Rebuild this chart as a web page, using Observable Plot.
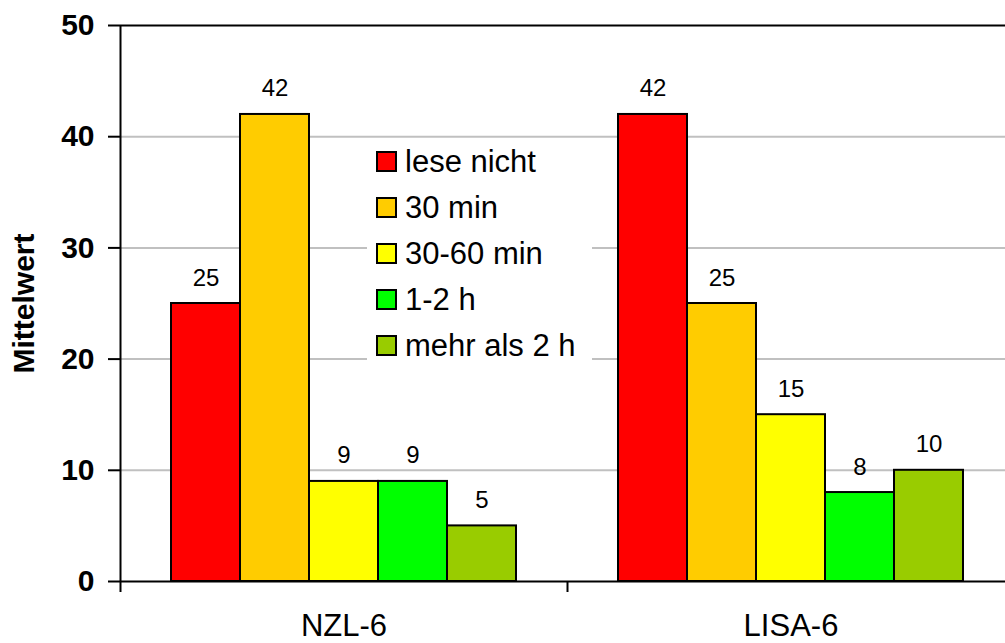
<!DOCTYPE html>
<html>
<head>
<meta charset="utf-8">
<script src="https://cdn.jsdelivr.net/npm/d3@7"></script>
<script src="https://cdn.jsdelivr.net/npm/@observablehq/plot@0.6"></script>
<style>
  html, body { margin: 0; padding: 0; background: #fff; overflow: hidden; }
  #wrap { position: relative; width: 1005px; height: 643px; font-family: Arial, "Liberation Sans", sans-serif; }
  #legend { position: absolute; left: 367px; top: 140px; width: 225px; height: 230px; background: #fff; box-sizing: border-box; padding-top: 11px; }
  .lg-row { display: flex; align-items: center; height: 46px; }
  .lg-sw { width: 21px; height: 21px; box-sizing: border-box; border: 2px solid #000; margin-left: 9px; margin-right: 8px; margin-top: -25px; flex: none; }
  .lg-row span.t { font-size: 31px; line-height: 31px; color: #000; margin-top: -25px; white-space: nowrap; }
  g[aria-label="y-axis label"] text { font-size: 30px; font-weight: bold; }
  g[aria-label="y-axis tick label"] text { font-size: 30px; font-weight: bold; }
</style>
</head>
<body>
<div id="wrap"></div>
<script>
const groups = ["NZL-6", "LISA-6"];
const series = ["lese nicht", "30 min", "30-60 min", "1-2 h", "mehr als 2 h"];
const colors = ["#FF0000", "#FFCC00", "#FFFF00", "#00FF00", "#99CC00"];
const nzlValues = [25, 42, 9, 9, 5];
const lisaValues = [42, 25, 15, 8, 10];
const yTicks = [0, 10, 20, 30, 40, 50];

const data = [];
series.forEach((s, i) => data.push({group: groups[0], series: s, value: nzlValues[i]}));
series.forEach((s, i) => data.push({group: groups[1], series: s, value: lisaValues[i]}));

const W = 1005, H = 643, ML = 120, MR = -9, MT = 25, MB = 62;
const PO = 0.739;
const facetW = (W - ML - MR) / groups.length;
const step = facetW / (series.length + 2 * PO);
const edge = (0.5 + PO) * step;

const font = "Arial, 'Liberation Sans', sans-serif";

const chart = Plot.plot({
  width: W, height: H,
  marginLeft: ML, marginRight: MR, marginTop: MT, marginBottom: MB,
  style: {fontFamily: font, color: "#000", background: "#fff", overflow: "hidden"},
  fx: {domain: groups, padding: 0},
  x: {domain: series, paddingOuter: PO, paddingInner: 0, axis: null},
  y: {domain: [0, 50]},
  color: {domain: series, range: colors},
  marks: [
    Plot.gridY(yTicks.filter(v => v > 0 && v < 50), {stroke: "#c0c0c0", strokeOpacity: 1, strokeWidth: 2}),
    Plot.ruleY([50], {stroke: "#000", strokeWidth: 2}),
    Plot.barY(data, {fx: "group", x: "series", y: "value", fill: "series", stroke: "#000", strokeWidth: 2}),
    Plot.ruleY([0], {stroke: "#000", strokeWidth: 2}),
    Plot.ruleX(groups.slice(0, 1), {fx: d => d, x: () => series[0], y1: 0, y2: 50, dx: -edge, stroke: "#000", strokeWidth: 2}),
    Plot.text(data, {fx: "group", x: "series", y: "value", text: d => String(d.value), dy: -18, lineAnchor: "bottom", fontSize: 24, fill: "#000"}),
    Plot.axisY({ticks: yTicks, tickSize: 12, tickPadding: 14, fontSize: 30, fontWeight: "bold", strokeWidth: 2, label: "Mittelwert", labelAnchor: "center", labelOffset: 108, labelArrow: "none"}),
    Plot.axisFx({anchor: "bottom", tickSize: 0, tickPadding: 32, fontSize: 31, label: null}),
    Plot.axisFx({anchor: "bottom", tickSize: 11, tickFormat: () => "", label: null, dx: -facetW / 2, strokeWidth: 2})
  ]
});
document.getElementById("wrap").appendChild(chart);

const legend = d3.select("#wrap").append("div").attr("id", "legend");
series.forEach((s, i) => {
  const row = legend.append("div").attr("class", "lg-row");
  row.append("div").attr("class", "lg-sw").style("background", colors[i]);
  row.append("span").attr("class", "t").text(s);
});
</script>
</body>
</html>
